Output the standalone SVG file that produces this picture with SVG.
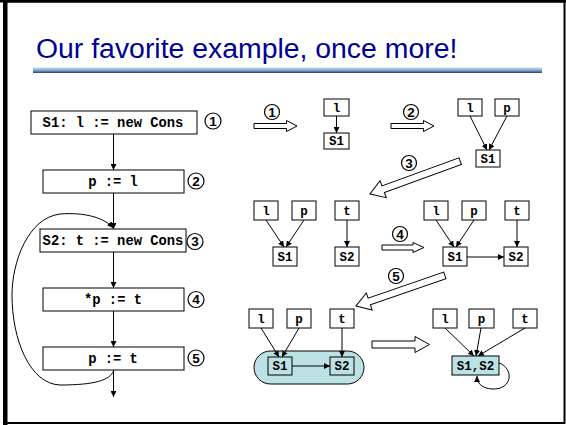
<svg xmlns="http://www.w3.org/2000/svg" width="566" height="425" viewBox="0 0 566 425">
<defs>
<linearGradient id="bar" x1="0" y1="0" x2="0" y2="1">
<stop offset="0" stop-color="#bfe2e6"/>
<stop offset="0.5" stop-color="#86aac8"/>
<stop offset="1" stop-color="#263a8a"/>
</linearGradient>
<marker id="ah" viewBox="0 0 10 10" refX="10" refY="5" markerWidth="6" markerHeight="6" markerUnits="userSpaceOnUse" orient="auto">
<path d="M0,0 L10,5 L0,10 z" fill="#000"/>
</marker>
<style>
.box{fill:#fff;stroke:#000;stroke-width:1}
.tbox{fill:#bde2e6;stroke:#000;stroke-width:1}
.code{font-family:"Liberation Mono","Courier New",monospace;font-weight:bold;font-size:13.8px;fill:#000;text-anchor:middle}
.ncode{font-family:"Liberation Mono","Courier New",monospace;font-weight:bold;font-size:12.5px;fill:#000;text-anchor:middle}
.num{fill:#fff;stroke:#000;stroke-width:1.2}
.numt{font-family:"Liberation Sans",Arial,sans-serif;font-weight:bold;font-size:13.5px;fill:#000;text-anchor:middle}
.edge{fill:none;stroke:#000;stroke-width:1;marker-end:url(#ah)}
.hollow{fill:#fff;stroke:#000;stroke-width:1}
</style>
</defs>
<rect x="0" y="0" width="566" height="425" fill="#fff"/>
<rect x="4.5" y="1.5" width="560" height="421.5" fill="none" stroke="#000" stroke-width="2"/>
<rect x="3" y="0" width="4.5" height="425" fill="#000"/>
<rect x="0" y="0" width="566" height="2.5" fill="#000"/>
<text x="36" y="58" font-family="'Liberation Sans',Arial,sans-serif" font-size="28.4" fill="#000096">Our favorite example, once more!</text>
<rect x="33" y="67.5" width="509" height="5.5" fill="url(#bar)"/>

<g id="g5blob"><rect class="tbox" x="254" y="351" width="110" height="33" rx="16.5" stroke="#333"/></g>

<g id="connectors">
<line class="edge" x1="113.5" y1="134" x2="113.5" y2="170"/>
<line class="edge" x1="113.5" y1="193" x2="113.5" y2="229"/>
<line class="edge" x1="113.5" y1="252" x2="113.5" y2="288"/>
<line class="edge" x1="113.5" y1="311" x2="113.5" y2="347"/>
<line class="edge" x1="113.5" y1="370" x2="113.5" y2="397"/>
<path class="edge" d="M113.5,371 C110,380 95,385 60,385 C30,384 12,340 12,295 C12,262 28,218 60,214 C85,212 105,218 113,228"/>
<line class="edge" x1="336.5" y1="116" x2="336.5" y2="133"/>
<line class="edge" x1="470" y1="116" x2="487" y2="150"/>
<line class="edge" x1="507" y1="116" x2="489" y2="150"/>
<line class="edge" x1="266" y1="220" x2="284" y2="247"/>
<line class="edge" x1="304" y1="220" x2="286" y2="247"/>
<line class="edge" x1="347" y1="220" x2="347" y2="247"/>
<line class="edge" x1="436" y1="220" x2="454" y2="247"/>
<line class="edge" x1="474" y1="220" x2="456" y2="247"/>
<line class="edge" x1="517" y1="220" x2="517" y2="247"/>
<line class="edge" x1="467" y1="257" x2="504" y2="257"/>
<line class="edge" x1="261" y1="328" x2="279" y2="357"/>
<line class="edge" x1="299" y1="328" x2="282" y2="357"/>
<line class="edge" x1="342" y1="328" x2="342" y2="357"/>
<line class="edge" x1="292" y1="366" x2="330" y2="366"/>
<line class="edge" x1="445" y1="328" x2="474" y2="356"/>
<line class="edge" x1="481" y1="328" x2="476" y2="356"/>
<line class="edge" x1="525" y1="328" x2="478" y2="356"/>
<path class="edge" d="M499,363 C514,368 513,390 492,389 C481,388 477,383 477,376"/>
</g>

<g id="flow">
<g id="b1"><rect class="box" x="31" y="111" width="166" height="23"/><text class="code" x="113" y="127">S1: l := new Cons</text></g>
<g id="b2"><rect class="box" x="43" y="170" width="141" height="23"/><text class="code" x="113" y="186">p := l</text></g>
<g id="b3"><rect class="box" x="40" y="229" width="146" height="23"/><text class="code" x="113" y="245">S2: t := new Cons</text></g>
<g id="b4"><rect class="box" x="43" y="288" width="141" height="23"/><text class="code" x="113" y="304">*p := t</text></g>
<g id="b5"><rect class="box" x="43" y="347" width="141" height="23"/><text class="code" x="113" y="363">p := t</text></g>
<g id="c1"><circle class="num" cx="213" cy="121" r="8"/><text class="numt" x="213" y="125.8">1</text></g>
<g id="c2"><circle class="num" cx="196" cy="181" r="8"/><text class="numt" x="196" y="185.8">2</text></g>
<g id="c3"><circle class="num" cx="195" cy="241.5" r="8"/><text class="numt" x="195" y="246.3">3</text></g>
<g id="c4"><circle class="num" cx="196" cy="299.5" r="8"/><text class="numt" x="196" y="304.3">4</text></g>
<g id="c5"><circle class="num" cx="196" cy="358" r="8"/><text class="numt" x="196" y="362.8">5</text></g>
</g>

<g id="steps">
<g id="a1"><polygon class="hollow" points="254,123.5 286.5,123.5 286.5,120.5 297,126 286.5,131.5 286.5,128.5 254,128.5"/><circle class="num" cx="272" cy="112" r="7.5"/><text class="numt" x="272" y="116.8">1</text></g>
<g id="a2"><polygon class="hollow" points="391,123.5 423.5,123.5 423.5,120.5 434,126 423.5,131.5 423.5,128.5 391,128.5"/><circle class="num" cx="411" cy="112" r="7.5"/><text class="numt" x="411" y="116.8">2</text></g>
<g id="a3"><polygon class="hollow" transform="translate(370,194) rotate(160)" points="0,0 -14,-9 -14,-3.5 -96,-3.5 -96,3.5 -14,3.5 -14,9"/><circle class="num" cx="409" cy="163" r="7.5"/><text class="numt" x="409" y="167.8">3</text></g>
<g id="a4"><polygon class="hollow" points="382,245 413,245 413,242.5 424,247.5 413,252.5 413,250 382,250"/><circle class="num" cx="400" cy="234" r="7.5"/><text class="numt" x="400" y="238.8">4</text></g>
<g id="a5"><polygon class="hollow" transform="translate(356,306) rotate(161)" points="0,0 -14,-9 -14,-3.5 -94,-3.5 -94,3.5 -14,3.5 -14,9"/><circle class="num" cx="396" cy="276" r="7.5"/><text class="numt" x="396" y="280.8">5</text></g>
<g id="a6"><polygon class="hollow" points="372,341 415,341 415,336.5 429.5,344.5 415,352.5 415,348 372,348"/></g>
</g>

<g id="g1">
<g id="g1l"><rect class="box" x="324" y="99" width="25" height="17"/><text class="ncode" x="336.5" y="111.5">l</text></g>
<g id="g1s1"><rect class="box" x="324" y="133" width="25" height="16"/><text class="ncode" x="336.5" y="145">S1</text></g>
</g>
<g id="g2">
<g id="g2l"><rect class="box" x="458" y="99" width="24" height="17"/><text class="ncode" x="470" y="111.5">l</text></g>
<g id="g2p"><rect class="box" x="495" y="99" width="24" height="17"/><text class="ncode" x="507" y="111.5">p</text></g>
<g id="g2s1"><rect class="box" x="476" y="150" width="24" height="17"/><text class="ncode" x="488" y="162.5">S1</text></g>
</g>
<g id="g3">
<g id="g3l"><rect class="box" x="254" y="201" width="24" height="19"/><text class="ncode" x="266" y="214.5">l</text></g>
<g id="g3p"><rect class="box" x="292" y="201" width="24" height="19"/><text class="ncode" x="304" y="214.5">p</text></g>
<g id="g3t"><rect class="box" x="335" y="201" width="24" height="19"/><text class="ncode" x="347" y="214.5">t</text></g>
<g id="g3s1"><rect class="box" x="273" y="247" width="24" height="19"/><text class="ncode" x="285" y="260.5">S1</text></g>
<g id="g3s2"><rect class="box" x="335" y="247" width="24" height="19"/><text class="ncode" x="347" y="260.5">S2</text></g>
</g>
<g id="g4">
<g id="g4l"><rect class="box" x="424" y="201" width="24" height="19"/><text class="ncode" x="436" y="214.5">l</text></g>
<g id="g4p"><rect class="box" x="462" y="201" width="24" height="19"/><text class="ncode" x="474" y="214.5">p</text></g>
<g id="g4t"><rect class="box" x="505" y="201" width="24" height="19"/><text class="ncode" x="517" y="214.5">t</text></g>
<g id="g4s1"><rect class="box" x="443" y="247" width="24" height="19"/><text class="ncode" x="455" y="260.5">S1</text></g>
<g id="g4s2"><rect class="box" x="504" y="247" width="24" height="19"/><text class="ncode" x="516" y="260.5">S2</text></g>
</g>
<g id="g5">
<g id="g5l"><rect class="box" x="249" y="309" width="24" height="19"/><text class="ncode" x="261" y="322.5">l</text></g>
<g id="g5p"><rect class="box" x="287" y="309" width="24" height="19"/><text class="ncode" x="299" y="322.5">p</text></g>
<g id="g5t"><rect class="box" x="330" y="309" width="24" height="19"/><text class="ncode" x="342" y="322.5">t</text></g>
<g id="g5s1"><rect class="tbox" x="268" y="357" width="24" height="18"/><text class="ncode" x="280" y="370">S1</text></g>
<g id="g5s2"><rect class="tbox" x="330" y="357" width="24" height="18"/><text class="ncode" x="342" y="370">S2</text></g>
</g>
<g id="g6">
<g id="g6l"><rect class="box" x="433" y="309" width="24" height="19"/><text class="ncode" x="445" y="322.5">l</text></g>
<g id="g6p"><rect class="box" x="469" y="309" width="25" height="19"/><text class="ncode" x="481.5" y="322.5">p</text></g>
<g id="g6t"><rect class="box" x="513" y="309" width="24" height="19"/><text class="ncode" x="525" y="322.5">t</text></g>
<g id="g6s"><rect class="tbox" x="452" y="356" width="47" height="19"/><text class="ncode" x="475.5" y="369.5">S1,S2</text></g>
</g>
</svg>
